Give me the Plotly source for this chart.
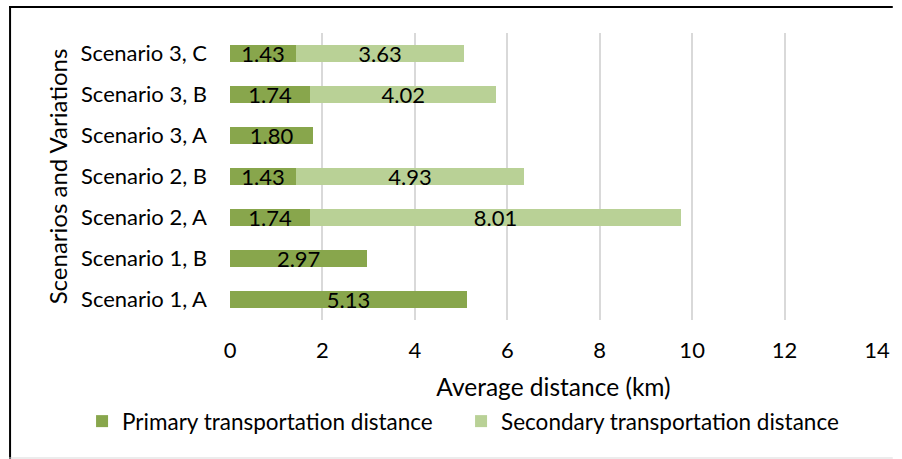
import plotly.graph_objects as go

categories = ["Scenario 1, A", "Scenario 1, B", "Scenario 2, A", "Scenario 2, B",
              "Scenario 3, A", "Scenario 3, B", "Scenario 3, C"]
primary = [5.13, 2.97, 1.74, 1.43, 1.80, 1.74, 1.43]
secondary = [None, None, 8.01, 4.93, None, 4.02, 3.63]
x_ticks = [0, 2, 4, 6, 8, 10, 12, 14]

FONT = "Lato"
FS = 22
W, H = 902, 459
ML, MR, MT, MB = 230, 16, 33, 139
PW, PH = W - ML - MR, H - MT - MB


def px_x(p):
    return (p - ML) / PW


def px_y(p):
    return (H - MB - p) / PH


fig = go.Figure()
fig.add_trace(go.Bar(
    name="Primary transportation distance", y=categories, x=primary, orientation="h",
    marker=dict(color="#88A64C", line=dict(width=0)),
    text=[f"{v:.2f}" for v in primary], textposition="inside",
    insidetextanchor="middle", constraintext="none",
    textfont=dict(family=FONT, size=FS, color="#000000"),
))
fig.add_trace(go.Bar(
    name="Secondary transportation distance", y=categories, x=secondary, orientation="h",
    marker=dict(color="#B9D196", line=dict(width=0)),
    text=[f"{v:.2f}" if v is not None else "" for v in secondary], textposition="inside",
    insidetextanchor="middle", constraintext="none",
    textfont=dict(family=FONT, size=FS, color="#000000"),
))

fig.update_layout(
    width=W, height=H, barmode="stack", bargap=0.6,
    margin=dict(l=ML, r=MR, t=MT, b=MB),
    paper_bgcolor="white", plot_bgcolor="white",
    font=dict(family=FONT, size=FS, color="#000000"),
    showlegend=True,
    legend=dict(orientation="h", x=px_x(80), xanchor="left", y=px_y(400), yanchor="top",
                font=dict(family=FONT, size=22.5, color="#000000"),
                entrywidth=334, traceorder="normal", itemwidth=30),
    xaxis=dict(range=[0, 14], tickvals=x_ticks, ticktext=[str(t) for t in x_ticks],
               showgrid=True, gridcolor="#D9D9D9", gridwidth=1.5,
               zeroline=False, showline=False, ticks="",
               ticklabelstandoff=15,
               tickfont=dict(family=FONT, size=FS, color="#000000"),
               title=dict(text="Average distance (km)", standoff=16,
                          font=dict(family=FONT, size=24.5, color="#000000"))),
    yaxis=dict(categoryorder="array", categoryarray=categories,
               showgrid=False, zeroline=False, showline=False, ticks="",
               ticklabelstandoff=22,
               tickfont=dict(family=FONT, size=FS, color="#000000"),
               title=dict(text="Scenarios and Variations", standoff=6,
                          font=dict(family=FONT, size=24, color="#000000"))),
    shapes=[
        dict(type="line", xref="paper", yref="paper", x0=px_x(7), x1=px_x(7),
             y0=px_y(6), y1=px_y(459), line=dict(color="#000000", width=2)),
        dict(type="line", xref="paper", yref="paper", x0=px_x(6), x1=px_x(902),
             y0=px_y(7), y1=px_y(7), line=dict(color="#000000", width=2)),
        dict(type="line", xref="paper", yref="paper", x0=px_x(6), x1=px_x(902),
             y0=px_y(458), y1=px_y(458), line=dict(color="#D9D9D9", width=1)),
    ],
)
fig.write_html(
    "out.html",
    post_script="document.body.style.margin='0';document.body.style.overflow='hidden';"
                "document.documentElement.style.overflow='hidden';",
)
